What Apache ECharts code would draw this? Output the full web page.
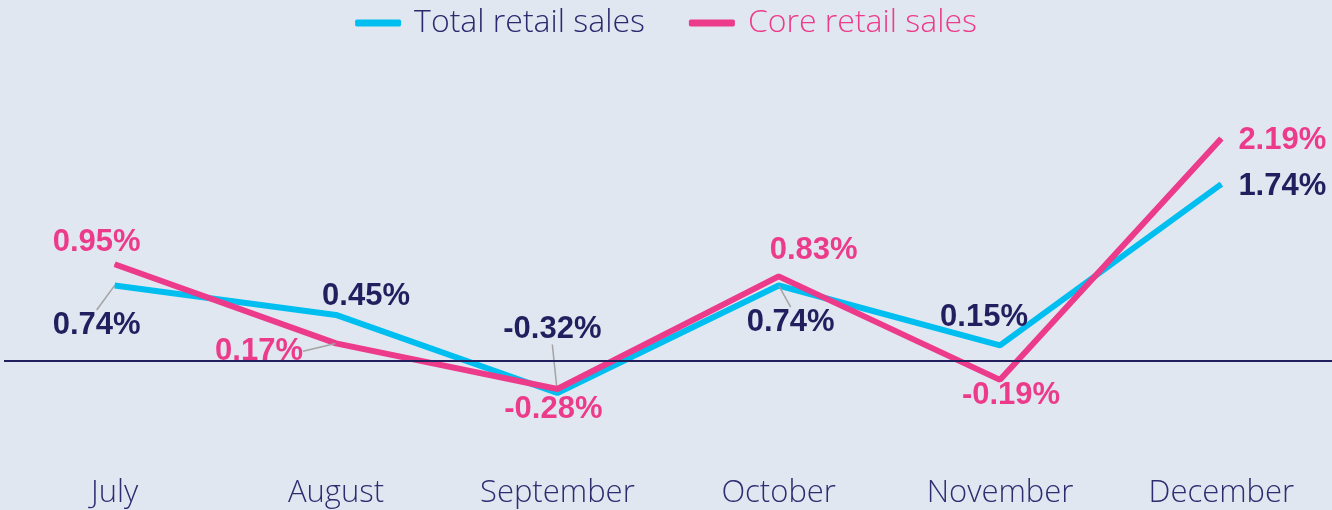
<!DOCTYPE html>
<html><head><meta charset="utf-8">
<script src="https://cdn.jsdelivr.net/npm/echarts@6/dist/echarts.min.js"></script>
<style>html,body{margin:0;padding:0;background:#e1e7f1;}#c{width:1332px;height:510px;}</style>
</head><body><div id="c"></div>
<script>
const months = ['July','August','September','October','November','December'];
const totalSales = [0.74, 0.45, -0.32, 0.74, 0.15, 1.74];
const coreSales = [0.95, 0.17, -0.28, 0.83, -0.19, 2.19];
// label offsets (dx, dy from point) and which labels get a leader line
const totalLabelOffsets = [[-18,40],[30,-18],[-5,-64],[12,37],[-16,-28],[61,2]];
const coreLabelOffsets = [[-18,-22],[-77,8],[-4,20],[35,-26],[11,16],[61,2]];
const totalLeader = [true,false,true,true,false,false];
const coreLeader = [false,true,false,false,false,false];

const NAVY = '#231f5f', PINK = '#ec3b8b', CYAN = '#00bff0';
const thinFont = 'Open Sans';

function mkData(vals, leaders){
  return vals.map((v,i)=>({value:v, labelLine:{show:leaders[i]}}));
}
function mkLayout(offs){
  return function(p){ const o = offs[p.dataIndex]; return {dx:o[0], dy:o[1]}; };
}
const labelBase = {show:true, position:'inside', fontFamily:'Liberation Sans', fontWeight:'bold', fontSize:31,
  formatter: p => p.value.toFixed(2) + '%'};

const chart = echarts.init(document.getElementById('c'));
chart.setOption({
  backgroundColor:'#e1e7f1',
  animation:false,
  legend:{
    top:2, left:'center', itemGap:44, itemWidth:46, itemHeight:7, icon:'roundRect',
    data:[
      {name:'Total retail sales', textStyle:{color:'#2b2a6e'}},
      {name:'Core retail sales', textStyle:{color:PINK}}
    ],
    textStyle:{fontFamily:thinFont, fontWeight:300, fontSize:32, padding:[0,0,0,8]}
  },
  grid:{left:4, width:1331, top:107, height:355},
  xAxis:{type:'category', data:months, axisLine:{show:false, onZero:false}, axisTick:{show:false},
    axisLabel:{color:'#2e2d70', fontFamily:thinFont, fontWeight:300, fontSize:31, margin:16}},
  yAxis:{type:'value', min:-1, max:2.5, show:false, splitLine:{show:false}},
  series:[
    {name:'Total retail sales', type:'line', data:mkData(totalSales,totalLeader), color:CYAN,
      symbol:'circle', symbolSize:1, lineStyle:{width:6, color:CYAN}, itemStyle:{color:CYAN}, z:2,
      label:Object.assign({}, labelBase, {color:NAVY}),
      labelLine:{show:false, lineStyle:{color:'#a3a3a3', width:1.5}},
      labelLayout: mkLayout(totalLabelOffsets),
      markLine:{silent:true, symbol:'none', label:{show:false}, lineStyle:{color:NAVY, width:2, type:'solid'},
        data:[{yAxis:0}]}
    },
    {name:'Core retail sales', type:'line', data:mkData(coreSales,coreLeader), color:PINK,
      symbol:'circle', symbolSize:1, lineStyle:{width:6, color:PINK}, itemStyle:{color:PINK}, z:3,
      label:Object.assign({}, labelBase, {color:PINK}),
      labelLine:{show:false, lineStyle:{color:'#a3a3a3', width:1.5}},
      labelLayout: mkLayout(coreLabelOffsets)
    }
  ]
});
</script></body></html>
